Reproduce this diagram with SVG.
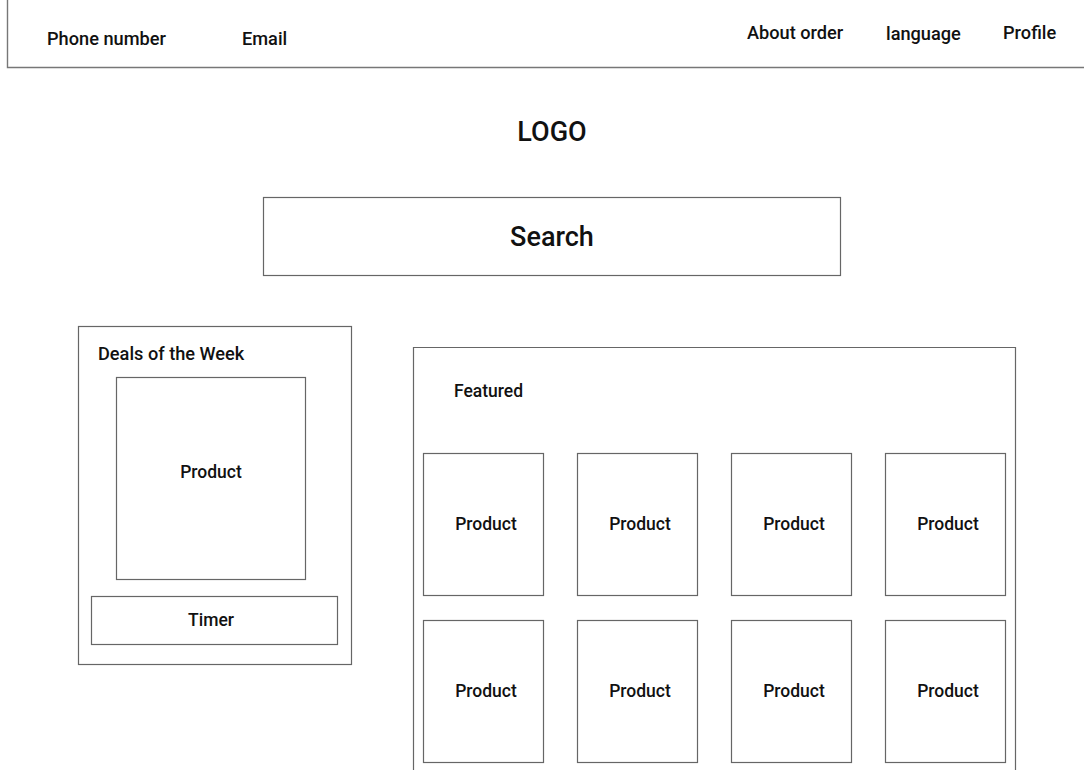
<svg xmlns="http://www.w3.org/2000/svg" width="1084" height="770" viewBox="0 0 1084 770">
  <style>
    .box { fill: #fff; stroke: #666; stroke-width: 1.2; }
    .t { font-family: Roboto, "Liberation Sans", sans-serif; fill: #111; font-size: 17.5px; font-weight: 500; }
    .h { font-size: 18.2px; }
    .c { text-anchor: middle; }
    .big { font-size: 27px; }
  </style>
  <rect width="1084" height="770" fill="#fff"/>

  <!-- header bar -->
  <g id="header">
    <path d="M7.5 0 V67.5 H1084" fill="none" stroke="#777" stroke-width="1.4"/>
    <text class="t h" x="47" y="45">Phone number</text>
    <text class="t h" x="242" y="45">Email</text>
    <text class="t h" x="747" y="39">About order</text>
    <text class="t h" x="886" y="40">language</text>
    <text class="t h" x="1003" y="39">Profile</text>
  </g>

  <g id="logo">
    <text class="t c big" x="552" y="141">LOGO</text>
  </g>

  <g id="search">
    <rect class="box" x="263.5" y="197.5" width="577" height="78"/>
    <text class="t c big" x="552" y="246">Search</text>
  </g>

  <!-- deals of the week panel -->
  <g id="deals">
    <rect class="box" x="78.5" y="326.5" width="273" height="338"/>
    <text class="t h" x="98" y="360">Deals of the Week</text>
    <g id="deal-product">
      <rect class="box" x="116.5" y="377.5" width="189" height="202"/>
      <text class="t c" x="211" y="478">Product</text>
    </g>
    <g id="timer">
      <rect class="box" x="91.5" y="596.5" width="246" height="48"/>
      <text class="t c" x="211" y="626">Timer</text>
    </g>
  </g>

  <!-- featured panel -->
  <g id="featured">
    <path class="box" d="M413.5 770 V347.5 H1015.5 V770"/>
    <text class="t" x="454" y="397">Featured</text>
  </g>

  <g id="p1"><rect class="box" x="423.5" y="453.5" width="120" height="142"/><text class="t c" x="486" y="530">Product</text></g>
  <g id="p2"><rect class="box" x="577.5" y="453.5" width="120" height="142"/><text class="t c" x="640" y="530">Product</text></g>
  <g id="p3"><rect class="box" x="731.5" y="453.5" width="120" height="142"/><text class="t c" x="794" y="530">Product</text></g>
  <g id="p4"><rect class="box" x="885.5" y="453.5" width="120" height="142"/><text class="t c" x="948" y="530">Product</text></g>
  <g id="p5"><rect class="box" x="423.5" y="620.5" width="120" height="142"/><text class="t c" x="486" y="697">Product</text></g>
  <g id="p6"><rect class="box" x="577.5" y="620.5" width="120" height="142"/><text class="t c" x="640" y="697">Product</text></g>
  <g id="p7"><rect class="box" x="731.5" y="620.5" width="120" height="142"/><text class="t c" x="794" y="697">Product</text></g>
  <g id="p8"><rect class="box" x="885.5" y="620.5" width="120" height="142"/><text class="t c" x="948" y="697">Product</text></g>

  <g id="connectors"/>
</svg>
